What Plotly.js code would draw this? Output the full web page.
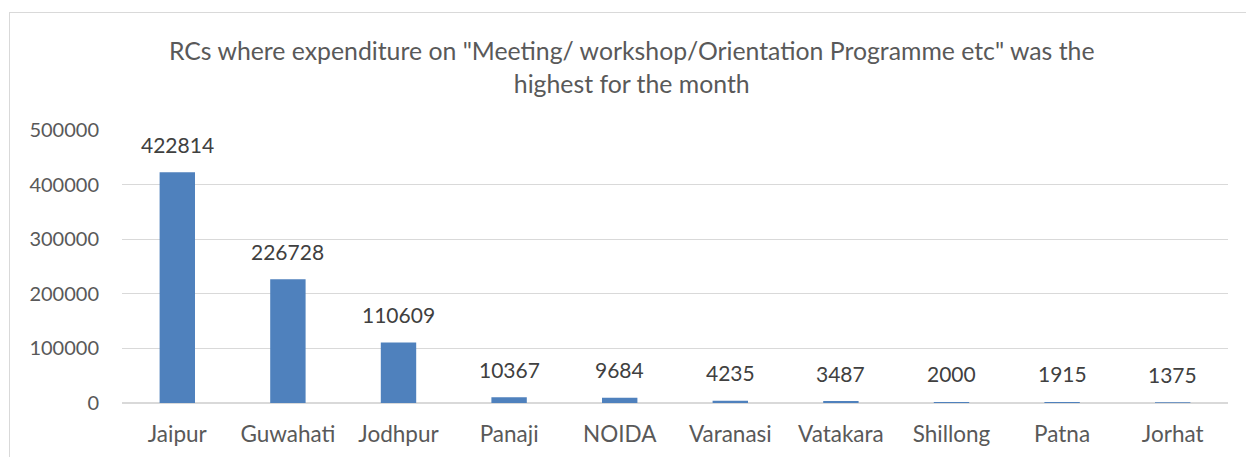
<!DOCTYPE html>
<html><head><meta charset="utf-8">
<script src="https://cdn.plot.ly/plotly-3.0.1.min.js"></script>
<style>
html,body{margin:0;padding:0;background:#fff;}
#frame{position:absolute;left:9px;top:12px;width:1300px;height:500px;border:1px solid #d9d9d9;box-sizing:border-box;}
#chart{position:absolute;left:0;top:0;width:1246px;height:457px;}
</style></head>
<body>
<div id="frame"></div>
<div id="chart"></div>
<script>
const categories = ["Jaipur","Guwahati","Jodhpur","Panaji","NOIDA","Varanasi","Vatakara","Shillong","Patna","Jorhat"];
const values = [422814,226728,110609,10367,9684,4235,3487,2000,1915,1375];
const yTicks = [0,100000,200000,300000,400000,500000];

const font = "Lato, 'Open Sans', sans-serif";
const annotations = categories.map((c,i)=>({
  x:c, y:values[i], xref:'x', yref:'y', text:String(values[i]), showarrow:false,
  yanchor:'middle', yshift:28, font:{family:font,size:21,color:'#404040'}
}));

Plotly.newPlot('chart',[{
  type:'bar', x:categories, y:values, marker:{color:'#4F81BD'}, hoverinfo:'x+y'
}],{
  width:1246,height:457,
  paper_bgcolor:'rgba(0,0,0,0)', plot_bgcolor:'rgba(0,0,0,0)',
  margin:{l:122,r:18,t:130,b:54},
  bargap:0.68,
  title:{text:'RCs where expenditure on "Meeting/ workshop/Orientation Programme etc" was the<br>highest for the month',
    x:0.507, xanchor:'center', y:0.868, yanchor:'middle',
    font:{family:font,size:24.8,color:'#595959'}},
  xaxis:{type:'category', showgrid:false, showline:false, ticks:'', ticklabelstandoff:15,
    tickfont:{family:font,size:22.5,color:'#595959'}},
  yaxis:{range:[0,500000], tickvals:yTicks, ticktext:yTicks.map(String), showgrid:true, gridcolor:'#d9d9d9', gridwidth:1.3,
    zeroline:true, zerolinecolor:'#d9d9d9', zerolinewidth:1.3, showline:false, ticks:'', ticklabelstandoff:22,
    tickfont:{family:font,size:20,color:'#595959'}},
  annotations:annotations,
  showlegend:false
},{displayModeBar:false,staticPlot:true});
</script>
</body></html>
